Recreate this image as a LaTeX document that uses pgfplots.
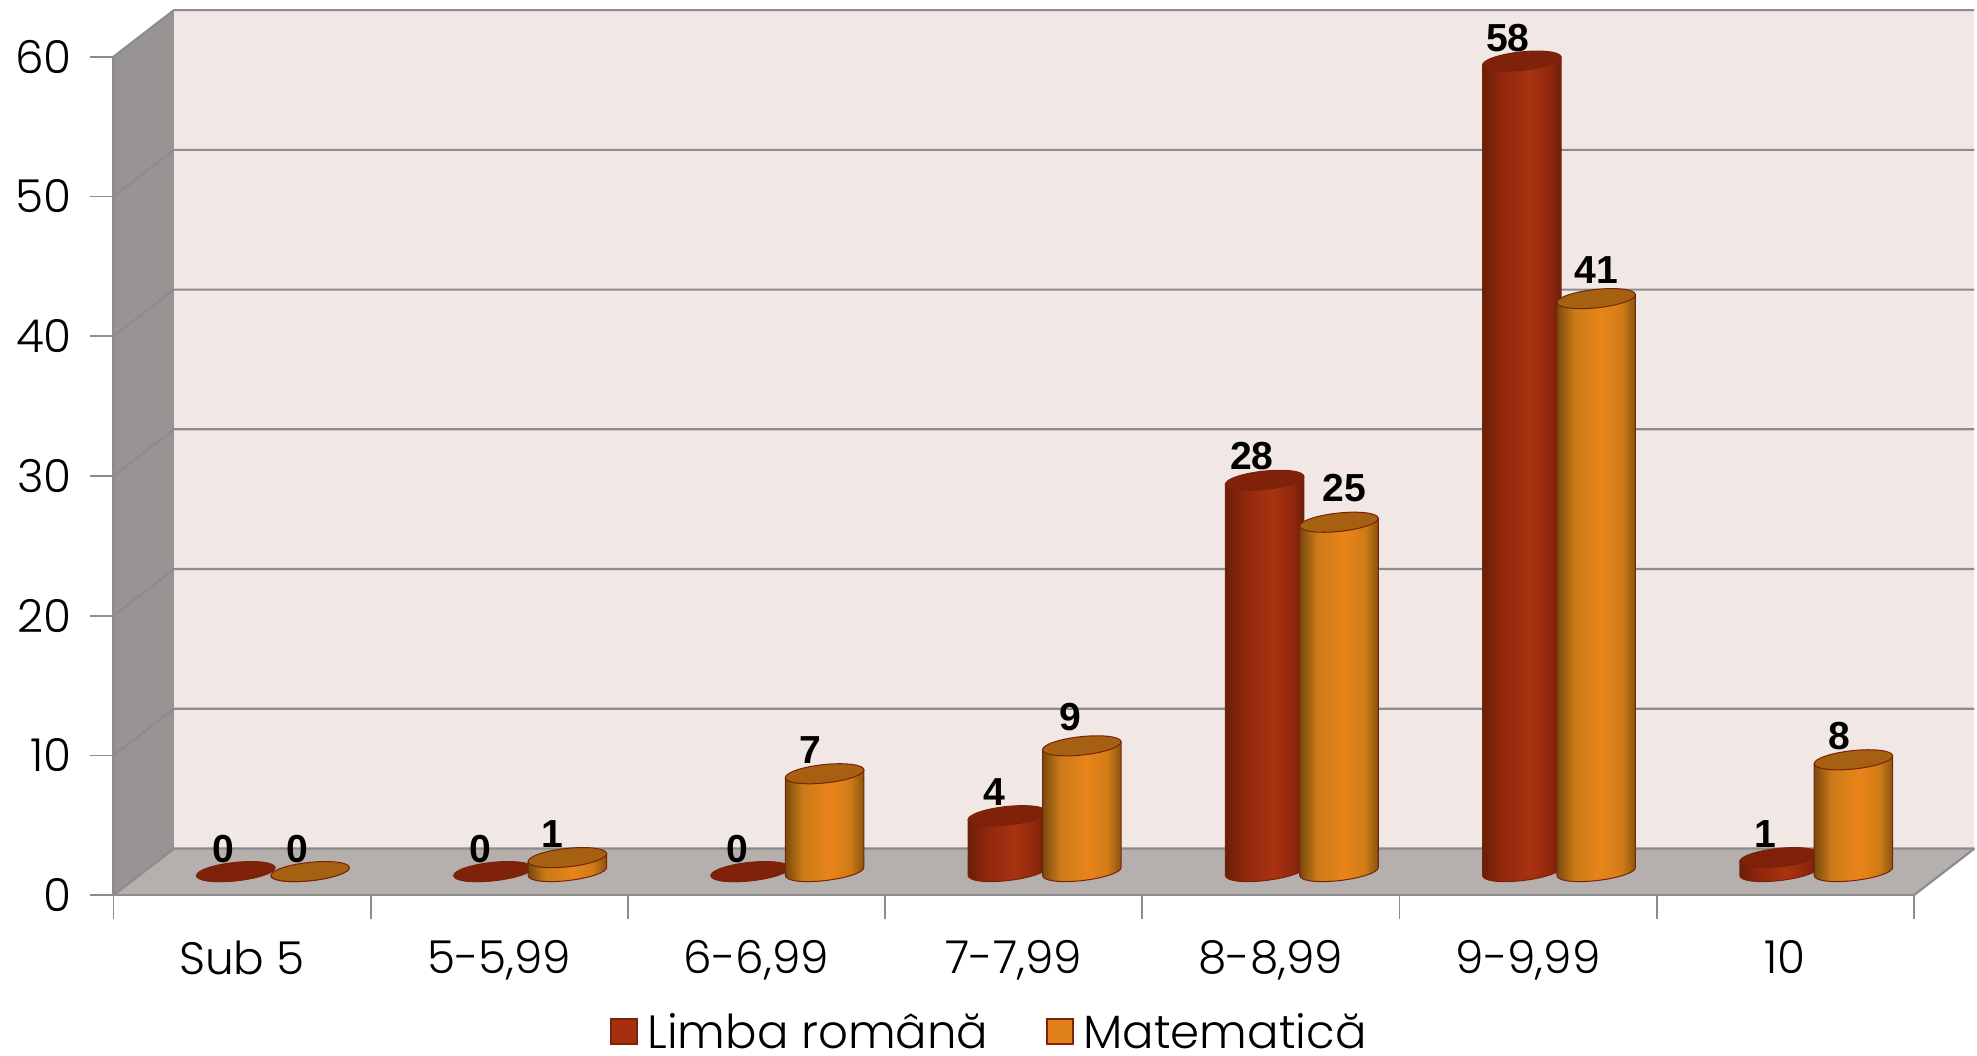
\documentclass[border=0pt]{standalone}
\usepackage{fontspec}
\usepackage{pgfplots}
\usepackage{pgfplotstable}
\pgfplotsset{compat=1.18}
\setmainfont{Poppins Light}
\newfontfamily\labelfont[BoldFont={Liberation Sans Bold}]{Liberation Sans}
\definecolor{backwall}{HTML}{F1E8E6}
\definecolor{sidewall}{HTML}{999494}
\definecolor{floorc}{HTML}{B5B0AD}
\definecolor{gridc}{HTML}{8C8C8C}
\definecolor{edgec}{HTML}{7A2208}
\definecolor{redtop}{HTML}{7F2209}
\definecolor{orgtop}{HTML}{A66012}
\definecolor{redleg}{HTML}{A52F0E}
\definecolor{orgleg}{HTML}{E0801A}
\pgfdeclarehorizontalshading{cylred}{100bp}{
  rgb(0bp)=(0.41,0.12,0.03);
  rgb(25bp)=(0.41,0.12,0.03);
  rgb(36bp)=(0.56,0.15,0.05);
  rgb(55bp)=(0.66,0.20,0.06);
  rgb(68bp)=(0.56,0.15,0.05);
  rgb(75bp)=(0.41,0.12,0.03);
  rgb(100bp)=(0.41,0.12,0.03)}
\pgfdeclarehorizontalshading{cylorg}{100bp}{
  rgb(0bp)=(0.47,0.29,0.05);
  rgb(25bp)=(0.47,0.29,0.05);
  rgb(36bp)=(0.80,0.48,0.10);
  rgb(53bp)=(0.91,0.52,0.10);
  rgb(66bp)=(0.82,0.48,0.09);
  rgb(75bp)=(0.52,0.33,0.06);
  rgb(100bp)=(0.52,0.33,0.06)}
\newcommand\cylinder[2]{%
  \pgfmathsetmacro\hh{\val*11.0833}%
  \shadedraw[shading=#1,draw=edgec,line width=0.8pt]
    (-31.13pt,-3.27pt) -- ++(0pt,-\hh pt)
    .. controls +(0.42pt,-4.01pt) and +(-17.19pt,-1.81pt) .. ++(30.367pt,-3.99pt)
    .. controls +(17.19pt,1.81pt) and +(0.42pt,-4.01pt) .. ++(31.893pt,10.53pt)
    -- (31.13pt,3.27pt) -- cycle;
  \path[fill=#2,draw=edgec,line width=0.8pt]
    (31.13pt,3.27pt)
    .. controls (30.71pt,7.28pt) and (16.43pt,9.07pt) .. (-0.763pt,7.26pt)
    .. controls (-17.95pt,5.45pt) and (-31.55pt,0.74pt) .. (-31.13pt,-3.27pt)
    .. controls (-30.71pt,-7.28pt) and (-16.43pt,-9.07pt) .. (0.763pt,-7.26pt)
    .. controls (17.95pt,-5.45pt) and (31.55pt,-0.74pt) .. (31.13pt,3.27pt) -- cycle;
}
\pgfplotstableread{
i v dx dy
0 0 -10 18
1 0 -10 18
2 0 -10 18
3 4 -10 19
4 28 -10 19
5 58 -11 18
6 1 -11 19
}\romana
\pgfplotstableread{
i v dx dy
0 0 -10 18
1 1 -12 19
2 7 -11 19
3 9 -9 23
4 25 4 27
5 41 0 23
6 8 -11 19
}\matem
\pgfplotsset{
  cyl/.style={scatter,only marks,mark=x,mark size=0pt,mark options={draw=none},
    visualization depends on={\thisrow{v} \as \val},
    visualization depends on={\thisrow{dx} \as \dxx},
    visualization depends on={\thisrow{dy} \as \dyy}},
  lab/.style={scatter/@pre marker code/.code={%
      \node[font=\labelfont\bfseries\fontsize{31}{31}\selectfont,inner sep=0pt,text=black]
        at (\dxx pt,\dyy pt) {\pgfmathprintnumber{\val}};},
      scatter/@post marker code/.code={}},
}
\begin{document}
\begin{tikzpicture}[x=1pt,y=1pt]
\useasboundingbox (-90pt,-127pt) rectangle (1478pt,710pt);
\begin{axis}[
  scale only axis,width=1428pt,height=665pt,
  at={(0pt,0pt)},anchor=origin,
  xmin=0,xmax=7,ymin=0,ymax=60,clip=false,
  axis x line*=bottom,axis y line*=left,
  axis line style={-,color=gridc,line width=1.6pt},
  xtick={0,1,2,3,4,5,6,7},
  xticklabels={Sub 5,{5-5,99},{6-6,99},{7-7,99},{8-8,99},{9-9,99},10},
  x tick label as interval,
  ytick={0,10,20,30,40,50,60},
  tick align=outside,major tick length=18.5pt,
  tick style={color=gridc,line width=1.4pt},
  /pgf/number format/assume math mode=true,
  ticklabel style={font=\fontsize{36}{36}\selectfont,text=black},
  yticklabel style={xshift=-11pt},
  xticklabel style={yshift=-14pt},
  legend style={at={(0.4867,-0.1625)},anchor=center,draw=none,fill=none,
    legend columns=2,font=\fontsize{37}{37}\selectfont,inner sep=0pt,
    /tikz/every even column/.append style={column sep=44pt}},
]
\addlegendimage{legend image code/.code={\draw[fill=redleg,draw=redtop,line width=1.5pt] (0pt,-10pt) rectangle (20pt,10pt);}}
\addlegendentry{\hspace{6pt}Limba română}
\addlegendimage{legend image code/.code={\draw[fill=orgleg,draw=redtop,line width=1.5pt] (0pt,-10pt) rectangle (20pt,10pt);}}
\addlegendentry{\hspace{6pt}Matematică}
% walls and floor
\addplot[fill=sidewall,draw=none,forget plot] coordinates {(0,0) (0.2353,3.338) (0.2353,63.338) (0,60)} -- cycle;
\addplot[fill=backwall,draw=none,forget plot] coordinates {(0.2353,3.338) (7.2353,3.338) (7.2353,63.338) (0.2353,63.338)} -- cycle;
\addplot[fill=floorc,draw=none,forget plot] coordinates {(0,0) (7,0) (7.2353,3.338) (0.2353,3.338)} -- cycle;
% grid on the back wall and the side wall
\addplot[color=gridc,line width=1.7pt,forget plot] coordinates {(0,0) (0.2353,3.338) (7.2353,3.338)};
\addplot[color=gridc,line width=1.7pt,forget plot] coordinates {(0,10) (0.2353,13.338) (7.2353,13.338)};
\addplot[color=gridc,line width=1.7pt,forget plot] coordinates {(0,20) (0.2353,23.338) (7.2353,23.338)};
\addplot[color=gridc,line width=1.7pt,forget plot] coordinates {(0,30) (0.2353,33.338) (7.2353,33.338)};
\addplot[color=gridc,line width=1.7pt,forget plot] coordinates {(0,40) (0.2353,43.338) (7.2353,43.338)};
\addplot[color=gridc,line width=1.7pt,forget plot] coordinates {(0,50) (0.2353,53.338) (7.2353,53.338)};
\addplot[color=gridc,line width=1.7pt,forget plot] coordinates {(0,60) (0.2353,63.338) (7.2353,63.338)};
\addplot[color=gridc,line width=1.7pt,forget plot] coordinates {(7,0) (7.2353,3.338)};
\addplot[color=gridc,line width=2pt,forget plot] coordinates {(0,60) (0,0) (7,0)};
% cylinders
\addplot[cyl,forget plot,scatter/@pre marker code/.code={\cylinder{cylred}{redtop}},scatter/@post marker code/.code={}]
  table[x expr=\thisrow{i}+0.4755,y expr=\thisrow{v}+1.69]{\romana};
\addplot[cyl,forget plot,scatter/@pre marker code/.code={\cylinder{cylorg}{orgtop}},scatter/@post marker code/.code={}]
  table[x expr=\thisrow{i}+0.7647,y expr=\thisrow{v}+1.69]{\matem};
% data labels
\addplot[cyl,lab,forget plot] table[x expr=\thisrow{i}+0.4755,y expr=\thisrow{v}+1.69]{\romana};
\addplot[cyl,lab,forget plot] table[x expr=\thisrow{i}+0.7647,y expr=\thisrow{v}+1.69]{\matem};
\end{axis}
\end{tikzpicture}
\end{document}
